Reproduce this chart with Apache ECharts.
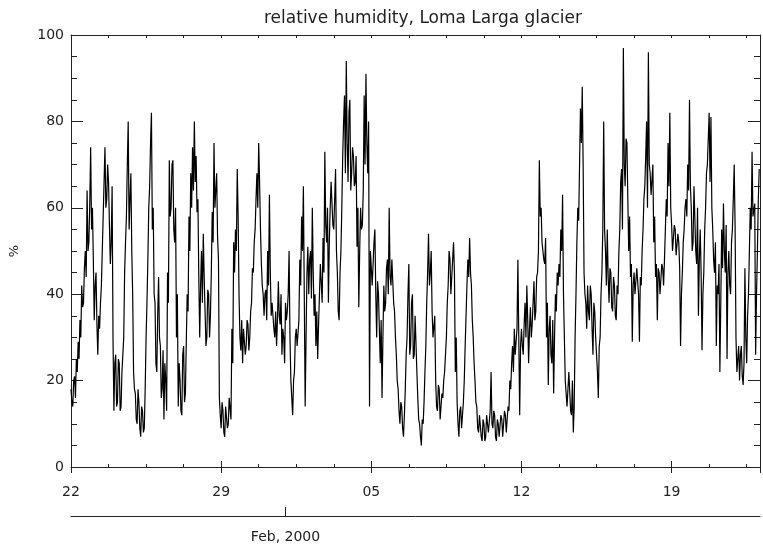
<!DOCTYPE html>
<html><head><meta charset="utf-8">
<script src="https://cdn.jsdelivr.net/npm/echarts@6/dist/echarts.min.js"></script>
<style>html,body{margin:0;padding:0;background:#fff}#c{width:763px;height:552px}</style>
</head><body><div id="c"></div>
<script>
// Relative humidity (%), hourly, starting 22 Jan 2000 00:00 (one row per day)
const week1 = [
  18, 15, 14, 20, 21, 16, 25, 22, 29, 25, 34, 30, 42, 37, 38, 46, 50, 44, 64, 50, 52, 61, 74, 55,
  60, 48, 34, 42, 45, 33, 26, 35, 32, 38, 42, 50, 58, 66, 74, 60, 62, 70, 66, 56, 47, 52, 65, 30,
  13, 24, 26, 14, 15, 25, 24, 13, 14, 22, 22, 30, 45, 52, 58, 70, 80, 55, 62, 68, 50, 40, 22, 18,
  17, 11, 10, 18, 15, 9, 7, 14, 13, 8, 9, 18, 30, 38, 48, 60, 65, 75, 82, 55, 60, 40, 38, 24,
  22, 35, 44, 30, 28, 16, 18, 27, 11, 24, 20, 13, 45, 38, 71, 58, 60, 70, 71, 55, 52, 60, 30, 40,
  14, 24, 20, 13, 12, 26, 28, 15, 17, 29, 40, 36, 58, 50, 68, 60, 74, 64, 80, 66, 72, 59, 62, 44,
  30, 42, 50, 38, 54, 44, 36, 28, 30, 41, 40, 30, 35, 45, 59, 52, 75, 60, 60, 68, 53, 48, 16, 12
];
const week2 = [
  9, 15, 13, 8, 7, 14, 14, 9, 10, 16, 16, 11, 32, 24, 52, 45, 55, 50, 69, 58, 40, 30, 27, 34,
  24, 32, 32, 26, 28, 34, 33, 27, 30, 36, 38, 46, 45, 52, 55, 62, 68, 60, 75, 66, 55, 47, 42, 40,
  35, 40, 41, 34, 50, 42, 63, 45, 35, 38, 38, 32, 30, 36, 28, 34, 43, 35, 33, 40, 26, 32, 30, 24,
  38, 34, 36, 40, 50, 30, 20, 16, 12, 20, 22, 30, 32, 28, 28, 34, 48, 42, 58, 50, 65, 40, 14, 30,
  45, 51, 40, 48, 50, 39, 60, 45, 35, 40, 28, 36, 25, 33, 40, 47, 47, 38, 53, 45, 73, 56, 52, 60,
  38, 52, 60, 66, 66, 56, 55, 62, 69, 50, 45, 36, 34, 45, 50, 60, 72, 80, 86, 68, 94, 75, 66, 82,
  85, 64, 68, 74, 72, 65, 66, 72, 51, 60, 37, 50, 60, 55, 56, 64, 86, 70, 91, 75, 68, 80, 14, 50
];
const week3 = [
  50, 42, 42, 52, 55, 40, 30, 43, 40, 32, 24, 34, 16, 30, 42, 36, 38, 46, 48, 40, 60, 44, 42, 48,
  48, 38, 36, 30, 26, 20, 18, 13, 10, 15, 14, 9, 7, 12, 18, 26, 30, 40, 47, 26, 28, 38, 40, 25,
  26, 35, 35, 22, 16, 11, 10, 7, 5, 11, 10, 15, 22, 28, 38, 45, 54, 42, 45, 50, 36, 30, 30, 35,
  20, 14, 13, 19, 18, 11, 11, 17, 16, 20, 22, 26, 30, 38, 42, 50, 48, 40, 40, 48, 52, 45, 22, 30,
  15, 10, 7, 13, 14, 9, 9, 15, 20, 28, 35, 42, 48, 44, 53, 45, 42, 34, 30, 24, 20, 15, 14, 9,
  8, 12, 12, 7, 6, 11, 10, 6, 7, 12, 12, 8, 8, 13, 22, 10, 9, 13, 12, 7, 6, 11, 10, 7,
  7, 12, 11, 7, 7, 13, 12, 8, 8, 14, 13, 20, 18, 24, 28, 22, 32, 26, 26, 32, 48, 30, 12, 28
];
const week4 = [
  32, 28, 26, 33, 38, 30, 42, 34, 24, 32, 37, 30, 33, 38, 43, 34, 36, 44, 45, 50, 71, 58, 60, 52,
  52, 48, 47, 53, 30, 38, 19, 32, 35, 26, 24, 34, 17, 30, 40, 36, 45, 42, 47, 44, 55, 50, 63, 40,
  30, 20, 20, 14, 14, 22, 22, 13, 12, 20, 8, 14, 30, 40, 52, 60, 57, 70, 83, 75, 88, 70, 45, 40,
  38, 32, 42, 36, 34, 42, 40, 32, 26, 38, 36, 30, 30, 22, 16, 28, 30, 40, 45, 55, 80, 55, 50, 42,
  55, 44, 38, 46, 45, 37, 36, 44, 42, 35, 34, 42, 40, 50, 55, 66, 69, 55, 97, 70, 65, 76, 75, 62,
  50, 58, 44, 47, 29, 42, 45, 40, 40, 46, 46, 40, 29, 44, 42, 50, 55, 62, 65, 72, 80, 60, 96, 70,
  68, 63, 63, 70, 52, 58, 44, 47, 34, 46, 45, 40, 40, 47, 46, 42, 48, 55, 62, 58, 75, 65, 82, 60
];
const week5 = [
  56, 50, 50, 56, 55, 49, 49, 54, 52, 46, 28, 40, 45, 52, 55, 60, 62, 58, 70, 64, 85, 65, 60, 50,
  52, 65, 65, 50, 47, 60, 35, 48, 55, 45, 27, 40, 45, 55, 60, 68, 70, 76, 82, 66, 81, 60, 55, 48,
  45, 52, 28, 42, 40, 47, 22, 38, 55, 46, 61, 50, 45, 56, 25, 45, 50, 42, 40, 52, 55, 62, 70, 56,
  30, 22, 25, 28, 20, 26, 28, 21, 19, 24, 46, 30, 24, 35, 40, 50, 60, 55, 73, 58, 58, 61, 26, 40,
  50, 62, 69
];
const stepHours = 1;
const tickDays = [0, 7, 14, 21, 28];
const tickLabels = ['22', '29', '05', '12', '19'];
const monthDay = 10;
const monthLabel = 'Feb, 2000';
const titleText = 'relative humidity, Loma Larga glacier';
const yTicks = [0, 20, 40, 60, 80, 100];

const values = [].concat(week1, week2, week3, week4, week5);
const data = values.map((v, i) => [i * stepHours / 24, v]);

const FONT = 'DejaVu Sans';
const INK = '#222';
const xMin = 0, xMax = 32.12;
const lineStyle = { color: INK, width: 1 };

function xAx(extra) {
  return Object.assign({
    type: 'value', gridIndex: 0, min: xMin, max: xMax,
    splitLine: { show: false },
    axisLine: { show: false, lineStyle },
    axisLabel: { show: false },
    axisTick: { show: false }
  }, extra);
}

const chart = echarts.init(document.getElementById('c'), null, { renderer: 'canvas' });
chart.setOption({
  animation: false,
  backgroundColor: '#fff',
  title: {
    text: titleText, left: 418, top: 5, textAlign: 'center',
    textStyle: { fontFamily: FONT, fontSize: 17, fontWeight: 'normal', color: INK }
  },
  grid: { left: 70, top: 35, width: 692, height: 432, containLabel: false },
  xAxis: [
    xAx({ position: 'bottom', interval: 1.75,
      axisLine: { show: true, onZero: false, lineStyle },
      axisTick: { show: true, inside: true, length: 3, lineStyle },
      axisLabel: { show: true, margin: 18, fontFamily: FONT, fontSize: 14, color: INK,
        formatter: v => { const k = tickDays.findIndex(d => Math.abs(d - v) < 1e-6); return k >= 0 ? tickLabels[k] : ''; } }
    }),
    xAx({ position: 'bottom', interval: 7,
      axisTick: { show: true, inside: true, length: 6, lineStyle } }),
    xAx({ position: 'top', interval: 1.75,
      axisLine: { show: true, onZero: false, lineStyle },
      axisTick: { show: true, inside: true, length: 3, lineStyle } }),
    xAx({ position: 'top', interval: 7,
      axisTick: { show: true, inside: true, length: 6, lineStyle } }),
    xAx({ position: 'bottom', offset: 49,
      axisLine: { show: true, onZero: false, lineStyle },
      axisTick: { show: true, inside: true, length: 9, lineStyle, customValues: [monthDay] },
      axisLabel: { show: true, margin: 14, fontFamily: FONT, fontSize: 14, color: INK,
        customValues: [monthDay], formatter: () => monthLabel }
    })
  ],
  yAxis: [
    { type: 'value', position: 'left', min: 0, max: 100, interval: 20,
      name: '%', nameLocation: 'middle', nameGap: 50, nameRotate: 90,
      nameTextStyle: { fontFamily: FONT, fontSize: 13, color: INK },
      splitLine: { show: false },
      axisLine: { show: true, onZero: false, lineStyle },
      axisTick: { show: true, inside: true, length: 12, lineStyle },
      minorTick: { show: true, splitNumber: 4, length: 6, lineStyle },
      axisLabel: { margin: 7, fontFamily: FONT, fontSize: 14, color: INK,
        formatter: v => yTicks.includes(v) ? String(v) : '' }
    },
    { type: 'value', position: 'right', min: 0, max: 100, interval: 20,
      splitLine: { show: false },
      axisLine: { show: true, onZero: false, lineStyle },
      axisTick: { show: true, inside: true, length: 12, lineStyle },
      minorTick: { show: true, splitNumber: 4, length: 6, lineStyle },
      axisLabel: { show: false }
    }
  ],
  series: [{
    type: 'line', xAxisIndex: 0, yAxisIndex: 0, data,
    showSymbol: false, symbol: 'none', sampling: null,
    lineStyle: { color: '#000', width: 1.2 }, silent: true
  }]
});
</script></body></html>
